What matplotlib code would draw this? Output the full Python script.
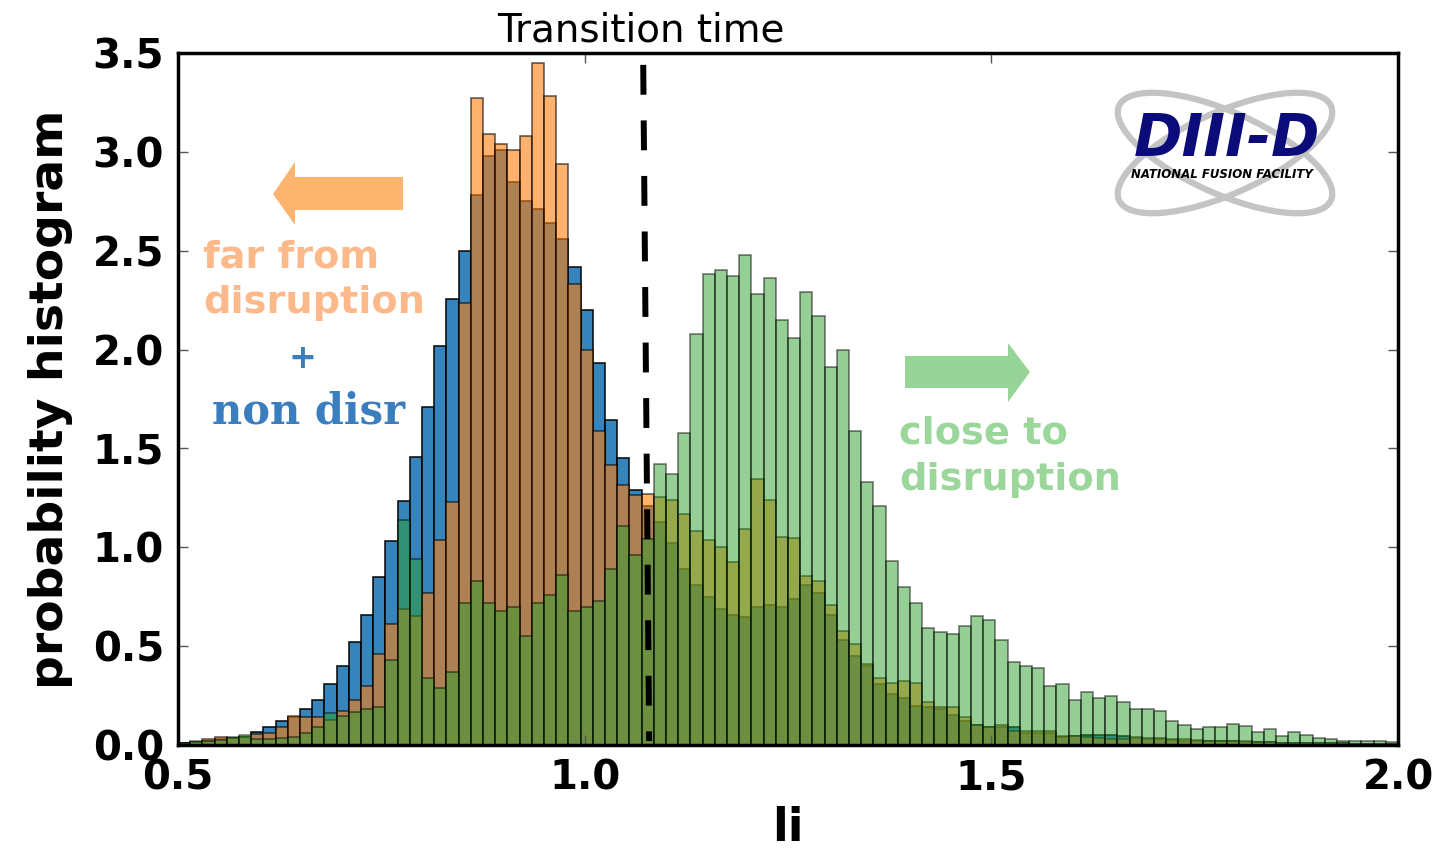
import numpy as np
import matplotlib
matplotlib.use("Agg")
import matplotlib.pyplot as plt
from matplotlib.patches import Polygon, Ellipse

# histogram bins: 100 bins of width 0.015 starting at li = 0.5
bin_start = 0.5
bin_width = 0.015

# non disruptive shots
non_disr = [0.01, 0.015, 0.02, 0.03, 0.035, 0.04, 0.065, 0.093, 0.12, 0.14,
            0.18, 0.23, 0.31, 0.40, 0.52, 0.66, 0.85, 1.03, 1.235, 1.455,
            1.71, 2.02, 2.255, 2.50, 2.78, 2.98, 3.01, 2.85, 2.75, 2.71,
            2.64, 2.56, 2.42, 2.20, 1.93, 1.645, 1.45, 1.29, 1.21, 1.13,
            1.02, 0.89, 0.81, 0.75, 0.69, 0.66, 0.645, 0.70, 0.71, 0.70,
            0.74, 0.81, 0.77, 0.66, 0.53, 0.45, 0.40, 0.31, 0.26, 0.24,
            0.195, 0.19, 0.18, 0.15, 0.12, 0.10, 0.09, 0.09, 0.09, 0.06,
            0.06, 0.06, 0.04, 0.045, 0.05, 0.05, 0.05, 0.045, 0.035, 0.03,
            0.03, 0.025, 0.02, 0.02, 0.02, 0.02, 0.02, 0.015, 0.015, 0.015,
            0.01, 0.01, 0.01, 0.01, 0.008, 0.008, 0.006, 0.006, 0.005, 0.005]

# disruptive shots, far from disruption
far_disr = [0.01, 0.015, 0.03, 0.04, 0.035, 0.04, 0.055, 0.06, 0.09, 0.145,
            0.14, 0.14, 0.127, 0.17, 0.23, 0.30, 0.46, 0.61, 0.69, 0.65,
            0.77, 1.035, 1.23, 2.235, 3.27, 3.09, 3.04, 3.01, 3.08, 3.45,
            3.28, 2.94, 2.33, 2.00, 1.59, 1.415, 1.315, 1.265, 1.267, 1.255,
            1.24, 1.17, 1.08, 1.035, 1.0, 0.925, 1.09, 1.345, 1.24, 1.05,
            1.047, 0.853, 0.83, 0.71, 0.577, 0.51, 0.41, 0.34, 0.314, 0.326,
            0.314, 0.22, 0.19, 0.19, 0.14, 0.10, 0.093, 0.10, 0.07, 0.07,
            0.07, 0.07, 0.045, 0.045, 0.04, 0.035, 0.03, 0.03, 0.04, 0.035,
            0.035, 0.03, 0.03, 0.025, 0.02, 0.02, 0.02, 0.02, 0.015, 0.015,
            0.01, 0.01, 0.01, 0.01, 0.008, 0.008, 0.006, 0.006, 0.005, 0.005]

# disruptive shots, close to disruption
close_disr = [0.01, 0.02, 0.02, 0.025, 0.04, 0.05, 0.03, 0.03, 0.035, 0.04,
              0.06, 0.09, 0.16, 0.145, 0.165, 0.18, 0.19, 0.43, 1.14, 0.94,
              0.34, 0.29, 0.37, 0.72, 0.83, 0.72, 0.68, 0.70, 0.55, 0.72,
              0.76, 0.86, 0.68, 0.70, 0.73, 0.89, 1.11, 0.96, 1.04, 1.42,
              1.37, 1.58, 2.08, 2.38, 2.40, 2.37, 2.48, 2.28, 2.36, 2.15,
              2.06, 2.29, 2.17, 1.91, 2.00, 1.59, 1.33, 1.21, 0.93, 0.80,
              0.72, 0.59, 0.57, 0.56, 0.60, 0.65, 0.63, 0.53, 0.42, 0.40,
              0.39, 0.30, 0.31, 0.23, 0.27, 0.24, 0.25, 0.22, 0.18, 0.18,
              0.17, 0.12, 0.10, 0.08, 0.09, 0.09, 0.105, 0.095, 0.065, 0.08,
              0.045, 0.065, 0.05, 0.035, 0.03, 0.02, 0.02, 0.02, 0.02, 0.017]

transition_li = (1.072, 1.0793)   # hand drawn line, top to bottom, slightly tilted
x_ticks = [0.5, 1.0, 1.5, 2.0]
y_ticks = [0.0, 0.5, 1.0, 1.5, 2.0, 2.5, 3.0, 3.5]

W, H = 1439, 858
fig = plt.figure(figsize=(W / 100, H / 100), dpi=100)
ax = fig.add_axes([178 / W, (H - 745) / H, (1398 - 178) / W, (745 - 53) / H])

lefts = bin_start + bin_width * np.arange(len(non_disr))
ax.bar(lefts, non_disr, width=bin_width, align='edge', color='#1f77b4',
       alpha=0.9, edgecolor='black', linewidth=1.2)
ax.bar(lefts, far_disr, width=bin_width, align='edge', color='#ff7f0e',
       alpha=0.6, edgecolor='black', linewidth=1.2)
ax.bar(lefts, close_disr, width=bin_width, align='edge', color='#2ca02c',
       alpha=0.5, edgecolor='black', linewidth=1.2)

ax.plot(transition_li, [3.44, 0.02], color='black', lw=4.3,
        linestyle=(0, (5, 4.3)), zorder=5)

ax.set_xlim(0.5, 2.0)
ax.set_ylim(0, 3.5)
ax.set_xticks(x_ticks)
ax.set_yticks(y_ticks)
ax.set_xticklabels(['%.1f' % t for t in x_ticks])
ax.set_yticklabels(['%.1f' % t for t in y_ticks])
ax.tick_params(direction='in', length=7, width=1, color='#555555',
               top=True, right=True, labelsize=29, pad=10)
for lab in ax.get_xticklabels() + ax.get_yticklabels():
    lab.set_fontweight('bold')
for sp in ax.spines.values():
    sp.set_linewidth(2.5)

ax.set_ylabel('probability histogram', fontsize=34, fontweight='bold', labelpad=14)
ax.set_xlabel('li', fontsize=33, fontweight='bold', labelpad=5)

fig.text(641 / W, 1 - 30 / H, 'Transition time', fontsize=28,
         ha='center', va='center')

# overlay in pixel coordinates for the hand-made annotations
ov = fig.add_axes([0, 0, 1, 1], facecolor='none')
ov.set_xlim(0, W)
ov.set_ylim(H, 0)
ov.axis('off')

ov.add_patch(Polygon([(403, 177), (295, 177), (295, 162), (273, 194),
                      (295, 225), (295, 210), (403, 210)],
                     closed=True, color='#fdb46e', lw=0))
ov.add_patch(Polygon([(905, 356), (1008, 356), (1008, 343), (1030, 372),
                      (1008, 402), (1008, 388), (905, 388)],
                     closed=True, color='#97d497', lw=0))

orange_txt = '#fdb98a'
green_txt = '#9bd69b'
blue_txt = '#3a7ebf'
ov.text(203, 257, 'far from', color=orange_txt, fontsize=27.5,
        fontweight='heavy', va='center', ha='left')
ov.text(203, 303, 'disruption', color=orange_txt, fontsize=27.5,
        fontweight='heavy', va='center', ha='left')
ov.text(302, 358, '+', color=blue_txt, fontsize=24, fontweight='bold',
        va='center', ha='center')
ov.text(309, 412, 'non disr', color=blue_txt, fontsize=30, fontweight='bold',
        family='DejaVu Serif', va='center', ha='center')
ov.text(899, 433, 'close to', color=green_txt, fontsize=27.5,
        fontweight='heavy', va='center', ha='left')
ov.text(899, 480, 'disruption', color=green_txt, fontsize=27.5,
        fontweight='heavy', va='center', ha='left')

# DIII-D logo
for ang in (24, -24):
    ov.add_patch(Ellipse((1225, 153), 232, 82, angle=ang, fill=False,
                         edgecolor='#c4c4c4', lw=4.5))
ov.text(1227, 140, 'DIII-D', color='#0b0b7a', fontsize=42, fontweight='heavy',
        style='italic', ha='center', va='center')
ov.text(1222, 174, 'NATIONAL FUSION FACILITY', color='black', fontsize=8.5,
        fontweight='bold', style='italic', ha='center', va='center')

fig.savefig('out.png', dpi=100)
